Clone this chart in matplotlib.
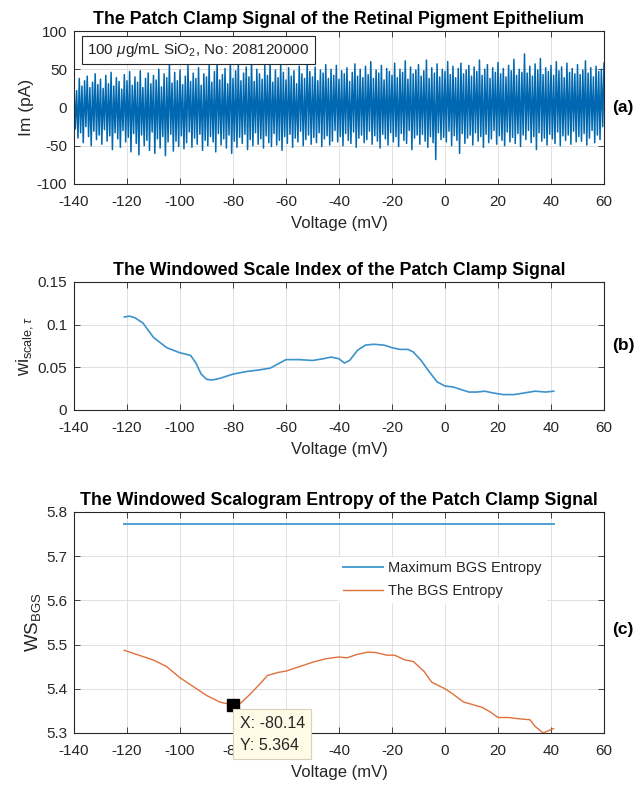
import numpy as np
import matplotlib.pyplot as plt

plt.rcParams['font.family'] = ['Liberation Sans', 'DejaVu Sans']
plt.rcParams['mathtext.fontset'] = 'custom'
plt.rcParams['mathtext.rm'] = 'Liberation Sans'
plt.rcParams['mathtext.it'] = 'Liberation Sans:italic'
plt.rcParams['axes.unicode_minus'] = False

# (a) patch clamp current: upper and lower swing of each oscillation
im_top_v = np.arange(-140, 61, 1.0)
im_top = [30, 22, 38, 28, 35, 41, 26, 33, 44, 30,
          37, 25, 42, 31, 46, 28, 39, 34, 24, 43,
          35, 47, 29, 40, 33, 48, 26, 38, 45, 31,
          42, 36, 50, 27, 44, 39, 57, 32, 46, 35,
          49, 30, 41, 55, 34, 45, 38, 52, 29, 44,
          40, 56, 33, 47, 60, 36, 43, 51, 31, 62,
          38, 48, 58, 35, 45, 53, 40, 63, 34, 50,
          44, 37, 55, 42, 60, 33, 49, 39, 57, 46,
          36, 52, 41, 48, 31, 54, 44, 38, 58, 47,
          40, 53, 35, 49, 45, 56, 38, 50, 42, 55,
          37, 48, 44, 52, 34, 46, 57, 41, 50, 39,
          54, 43, 60, 38, 49, 45, 55, 36, 51, 47,
          42, 58, 39, 50, 46, 61, 37, 53, 44, 49,
          56, 41, 48, 62, 38, 52, 45, 57, 40, 50,
          47, 60, 43, 54, 39, 51, 58, 44, 49, 55,
          41, 53, 47, 62, 42, 50, 56, 38, 52, 46,
          59, 44, 51, 40, 55, 48, 63, 42, 50, 46,
          70, 45, 54, 41, 57, 49, 64, 43, 52, 47,
          55, 42, 60, 48, 53, 39, 58, 46, 51, 44,
          56, 43, 49, 61, 45, 52, 40, 54, 47, 50,
          58]
im_low_v = np.arange(-139.5, 60, 1.0)
im_low = [-28, -40, -33, -46, -25, -38, -50, -31, -42, -36,
          -48, -29, -44, -37, -55, -33, -41, -52, -30, -45,
          -39, -58, -34, -47, -62, -36, -50, -43, -56, -32,
          -60, -41, -53, -38, -63, -45, -35, -57, -44, -51,
          -37, -54, -46, -32, -52, -40, -48, -35, -56, -43,
          -50, -38, -45, -58, -34, -49, -41, -53, -36, -60,
          -44, -52, -39, -47, -35, -55, -42, -50, -33, -48,
          -41, -53, -37, -46, -51, -34, -49, -43, -56, -38,
          -47, -35, -52, -40, -45, -31, -50, -42, -36, -48,
          -39, -46, -33, -51, -41, -37, -49, -44, -30, -45,
          -38, -50, -34, -43, -47, -32, -52, -40, -36, -46,
          -42, -31, -48, -37, -44, -53, -35, -41, -49, -33,
          -45, -38, -51, -34, -43, -47, -30, -55, -40, -36,
          -48, -35, -44, -52, -38, -46, -68, -33, -42, -39,
          -45, -31, -50, -37, -43, -60, -34, -47, -40, -36,
          -49, -33, -44, -38, -52, -35, -46, -41, -30, -48,
          -37, -43, -50, -32, -45, -39, -47, -34, -51, -36,
          -42, -30, -46, -38, -55, -33, -44, -40, -49, -35,
          -41, -47, -32, -50, -37, -43, -36, -48, -31, -45,
          -38, -44, -34, -49, -40, -30, -46, -36, -42, -25]

# (b) windowed scale index
wi_v = [-121, -119, -117, -114, -110, -105, -100, -96, -94, -92, -90, -88,
        -85, -80, -75, -70, -66, -63, -60, -55, -50, -46, -43, -40, -38,
        -36, -33, -30, -27, -23, -20, -17, -14, -12, -9, -6, -3, 0, 3, 6,
        9, 12, 15, 18, 22, 26, 30, 34, 38, 41]
wi = [0.109, 0.110, 0.108, 0.102, 0.085, 0.073, 0.067, 0.064, 0.055, 0.042,
      0.036, 0.035, 0.037, 0.042, 0.045, 0.047, 0.049, 0.054, 0.059, 0.059,
      0.058, 0.060, 0.062, 0.060, 0.055, 0.058, 0.070, 0.076, 0.077, 0.076,
      0.073, 0.071, 0.071, 0.068, 0.058, 0.045, 0.033, 0.028, 0.027, 0.024,
      0.021, 0.021, 0.022, 0.020, 0.018, 0.018, 0.020, 0.022, 0.021, 0.022]

# (c) windowed scalogram entropy
ws_v = [-121, -115, -110, -105, -100, -95, -90, -85, -82, -80.14, -77, -74,
        -70, -67, -63, -60, -55, -50, -45, -40, -37, -33, -29, -26, -22,
        -19, -15, -12, -8, -5, 0, 3, 7, 10, 14, 17, 20, 24, 28, 32, 34, 37,
        39, 41]
ws = [5.487, 5.475, 5.465, 5.450, 5.425, 5.405, 5.385, 5.370, 5.366, 5.364,
      5.368, 5.385, 5.410, 5.430, 5.437, 5.440, 5.450, 5.460, 5.468, 5.472,
      5.470, 5.478, 5.483, 5.482, 5.476, 5.476, 5.465, 5.462, 5.440, 5.415,
      5.400, 5.388, 5.370, 5.365, 5.358, 5.348, 5.335, 5.335, 5.332, 5.330,
      5.315, 5.300, 5.305, 5.310]
ws_max_v = [-121, 41]
ws_max = [5.772, 5.772]
tip_v, tip_y = -80.14, 5.364

xticks = np.arange(-140, 61, 20)
dark = '#262626'


def style(ax, ylim, yticks):
    ax.set_xlim(-140, 60)
    ax.set_ylim(*ylim)
    ax.set_xticks(xticks)
    ax.set_yticks(yticks)
    ax.grid(True, color='#dcdcdc', linewidth=0.6)
    ax.set_axisbelow(True)
    ax.tick_params(direction='in', top=True, right=True, labelsize=11,
                   colors=dark, length=4, width=0.6)
    ax.tick_params(axis='x', pad=8)
    ax.tick_params(axis='y', pad=5)
    for s in ax.spines.values():
        s.set_color(dark)
        s.set_linewidth(0.8)
    ax.set_xlabel('Voltage (mV)', fontsize=12, color=dark, labelpad=5)


fig = plt.figure(figsize=(6.34, 7.89), dpi=100)
ax1 = fig.add_axes([0.1167, 0.7668, 0.836, 0.1939])
ax2 = fig.add_axes([0.1167, 0.4804, 0.836, 0.1622])
ax3 = fig.add_axes([0.1167, 0.0710, 0.836, 0.2801])

# (a)
sig_v = np.empty(len(im_top) + len(im_low))
sig = np.empty_like(sig_v)
sig_v[0::2], sig_v[1::2] = im_top_v, im_low_v
sig[0::2], sig[1::2] = im_top, im_low
ax1.plot(sig_v, sig, color='#0068b0', linewidth=1.1)
style(ax1, (-100, 100), [-100, -50, 0, 50, 100])
ax1.set_ylabel('Im (pA)', fontsize=12.5, color=dark, labelpad=2)
ax1.set_title('The Patch Clamp Signal of the Retinal Pigment Epithelium',
              fontsize=12.8, fontweight='bold', pad=5)
ax1.text(0.025, 0.935, r'100 $\mu$g/mL SiO$_2$, No: 208120000', transform=ax1.transAxes,
         fontsize=11, va='top', ha='left', color=dark,
         bbox=dict(boxstyle='square,pad=0.35', facecolor='white', edgecolor=dark, linewidth=0.8))

# (b)
ax2.plot(wi_v, wi, color='#3b93cc', linewidth=1.2)
style(ax2, (0, 0.15), [0, 0.05, 0.1, 0.15])
ax2.set_yticklabels(['0', '0.05', '0.1', '0.15'])
ax2.set_ylabel(r'wi$_{\mathrm{scale},\tau}$', fontsize=13, color=dark, labelpad=2)
ax2.set_title('The Windowed Scale Index of the Patch Clamp Signal',
              fontsize=12.8, fontweight='bold', pad=5)

# (c)
ax3.plot(ws_max_v, ws_max, color='#4d9fd1', linewidth=1.4, label='Maximum BGS Entropy')
ax3.plot(ws_v, ws, color='#e0703c', linewidth=1.0, label='The BGS Entropy')
style(ax3, (5.3, 5.8), [5.3, 5.4, 5.5, 5.6, 5.7, 5.8])
ax3.set_ylabel(r'WS$_{\mathrm{BGS}}$', fontsize=13.5, color=dark, labelpad=2)
ax3.set_title('The Windowed Scalogram Entropy of the Patch Clamp Signal',
              fontsize=12.8, fontweight='bold', pad=5)
leg = ax3.legend(loc='upper right', bbox_to_anchor=(0.905, 0.83), fontsize=10.5,
                 handlelength=2.7, handletextpad=0.4, frameon=True, facecolor='white',
                 edgecolor='white', framealpha=1, fancybox=False, borderpad=0.3,
                 labelspacing=0.6)
for t in leg.get_texts():
    t.set_color(dark)
ax3.plot([tip_v], [tip_y], marker='s', markersize=8, color='black', zorder=5)
ax3.annotate('X: %.2f\nY: %.3f' % (tip_v, tip_y), xy=(tip_v, tip_y),
             xytext=(5, -8), textcoords='offset points', ha='left', va='top',
             fontsize=11.5, color=dark, linespacing=1.6, annotation_clip=False, zorder=6,
             bbox=dict(boxstyle='square,pad=0.4', facecolor='#fffbe6',
                       edgecolor='#d8d2b8', linewidth=0.8))

for ax, tag in ((ax1, '(a)'), (ax2, '(b)'), (ax3, '(c)')):
    ax.text(1.015, 0.5 if tag != '(c)' else 0.47, tag, transform=ax.transAxes,
            fontsize=12.5, fontweight='bold', va='center', ha='left')

fig.savefig('out.png', dpi=100)
